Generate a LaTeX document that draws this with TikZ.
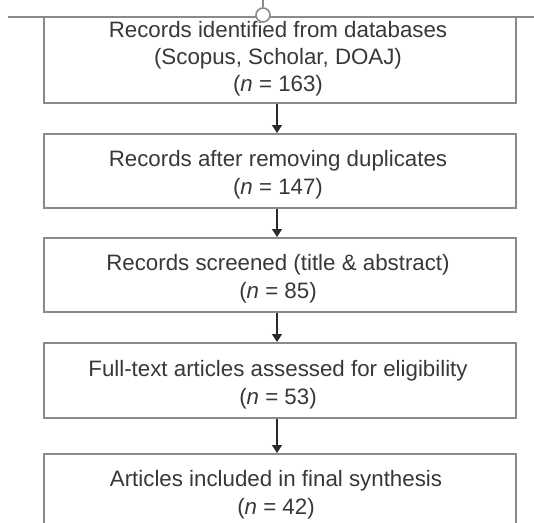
\documentclass[tikz,border=0pt]{standalone}
\usepackage{fontspec}
\setmainfont{Liberation Sans}
\usetikzlibrary{arrows.meta}
\definecolor{boxline}{HTML}{8A8A8A}
\definecolor{inktext}{HTML}{383838}
\definecolor{arrowink}{HTML}{2A2A2A}
\tikzset{
  stagebox/.style={draw=boxline, line width=2pt, fill=white, inner sep=0pt,
    minimum width=472pt, minimum height=74pt},
  stagetext/.style={inner sep=0pt, align=center, text=inktext,
    font=\fontsize{22.3}{28}\selectfont},
  flowarrow/.style={draw=arrowink, line width=1.4pt,
    -{Triangle[width=10pt,length=8pt]}},
  rule/.style={draw=boxline, line width=2pt},
}
\begin{document}
\begin{tikzpicture}[x=1pt,y=-1pt]
  \useasboundingbox (0,0) rectangle (534,522);
  \clip (0,0) rectangle (534,522);
  \fill[white] (0,0) rectangle (534,522);

  % flow stages: frames
  \node[stagebox, minimum height=86pt] (s1) at (280,60) {};
  \node[stagebox] (s2) at (280,171) {};
  \node[stagebox] (s3) at (280,275) {};
  \node[stagebox, minimum height=75pt] (s4) at (280,380.5) {};
  \node[stagebox] (s5) at (280,491) {};

  % rule across the top edge
  \coordinate (ruleL) at (8,17);
  \coordinate (ruleR) at (534,17);
  \draw[rule] (ruleL) -- (ruleR);

  % flow stages: labels
  \node[stagetext, font=\fontsize{22.3}{27}\selectfont] (t1) at (278,59)
    {Records identified from databases\\(Scopus, Scholar, DOAJ)\\(\textit{n} = 163)};
  \node[stagetext] (t2) at (278,175)
    {Records after removing duplicates\\(\textit{n} = 147)};
  \node[stagetext] (t3) at (278,279)
    {Records screened (title \& abstract)\\(\textit{n} = 85)};
  \node[stagetext] (t4) at (278,384.5)
    {Full-text articles assessed for eligibility\\(\textit{n} = 53)};
  \node[stagetext] (t5) at (276,495)
    {Articles included in final synthesis\\(\textit{n} = 42)};

  % ring marker on the rule, laid over the first label
  \coordinate (stemTop) at (263,0);
  \node[circle, draw=boxline, line width=1.6pt, fill=white, minimum size=14pt,
        inner sep=0pt] (ring) at (263,15) {};
  \draw[boxline, line width=1.4pt] (stemTop) -- (ring.north);

  % connectors between stages
  \coordinate (ax) at (277,0);
  \draw[flowarrow] (s1.south -| ax) -- (s2.north -| ax);
  \draw[flowarrow] (s2.south -| ax) -- (s3.north -| ax);
  \draw[flowarrow] (s3.south -| ax) -- (s4.north -| ax);
  \draw[flowarrow] (s4.south -| ax) -- (s5.north -| ax);
\end{tikzpicture}
\end{document}
